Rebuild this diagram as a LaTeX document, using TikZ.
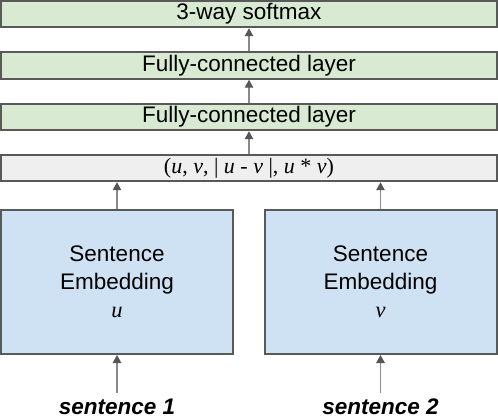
\documentclass[tikz,border=0pt]{standalone}
\usepackage{fontspec}
\setmainfont{Liberation Sans}
\newfontfamily\mathserif{Liberation Serif}
\usetikzlibrary{arrows.meta}
\definecolor{boxgreen}{HTML}{D9EAD3}
\definecolor{boxblue}{HTML}{CFE2F3}
\definecolor{boxgray}{HTML}{EFEFEF}
\definecolor{boxborder}{HTML}{595959}
\definecolor{arrline}{HTML}{8A8A8A}
\definecolor{arrhead}{HTML}{555555}
\begin{document}
\begin{tikzpicture}[x=1pt,y=1pt,
  layerbox/.style={draw=boxborder, line width=2pt, minimum width=496pt, minimum height=26.5pt, inner sep=0pt, font=\fontsize{22.5}{26}\selectfont},
  embbox/.style={draw=boxborder, line width=2pt, fill=boxblue, minimum width=232pt, minimum height=144pt, inner sep=0pt, align=center, font=\fontsize{22.5}{28}\selectfont},
  arr/.style={draw=arrline, line width=1.3pt, -{Triangle[length=8pt,width=8.5pt,color=arrhead]}},
  sentlabel/.style={font=\fontsize{22.5}{26}\selectfont\bfseries\itshape, inner sep=0pt, anchor=base}
]
\useasboundingbox (0,0) rectangle (498,418);
\node[layerbox, fill=boxgreen] (soft) at (249,404) {3-way softmax};
\node[layerbox, fill=boxgreen] (fc1) at (249,352.5) {Fully-connected layer};
\node[layerbox, fill=boxgreen] (fc2) at (249,301) {Fully-connected layer};
\node[layerbox, fill=boxgray, font=\mathserif\fontsize{22}{26}\selectfont] (cat) at (249,250) {(\textit{u}, \textit{v}, | \textit{u} - \textit{v} |, \textit{u} * \textit{v})};
\node[embbox] (embu) at (117,136) {Sentence\\Embedding\\{\mathserif\itshape u}};
\node[embbox] (embv) at (380.5,136) {Sentence\\Embedding\\{\mathserif\itshape v}};
\node[sentlabel] (s1) at (117,4) {sentence 1};
\node[sentlabel] (s2) at (380.5,4) {sentence 2};
\coordinate (s1top) at (117,25);
\coordinate (s2top) at (380.5,25);
\draw[arr] (fc1.north) -- (soft.south);
\draw[arr] (fc2.north) -- (fc1.south);
\draw[arr] (cat.north) -- (fc2.south);
\draw[arr] (embu.north) -- (embu.north |- cat.south);
\draw[arr] (embv.north) -- (embv.north |- cat.south);
\draw[arr] (s1top) -- (embu.south);
\draw[arr] (s2top) -- (embv.south);
\end{tikzpicture}
\end{document}
